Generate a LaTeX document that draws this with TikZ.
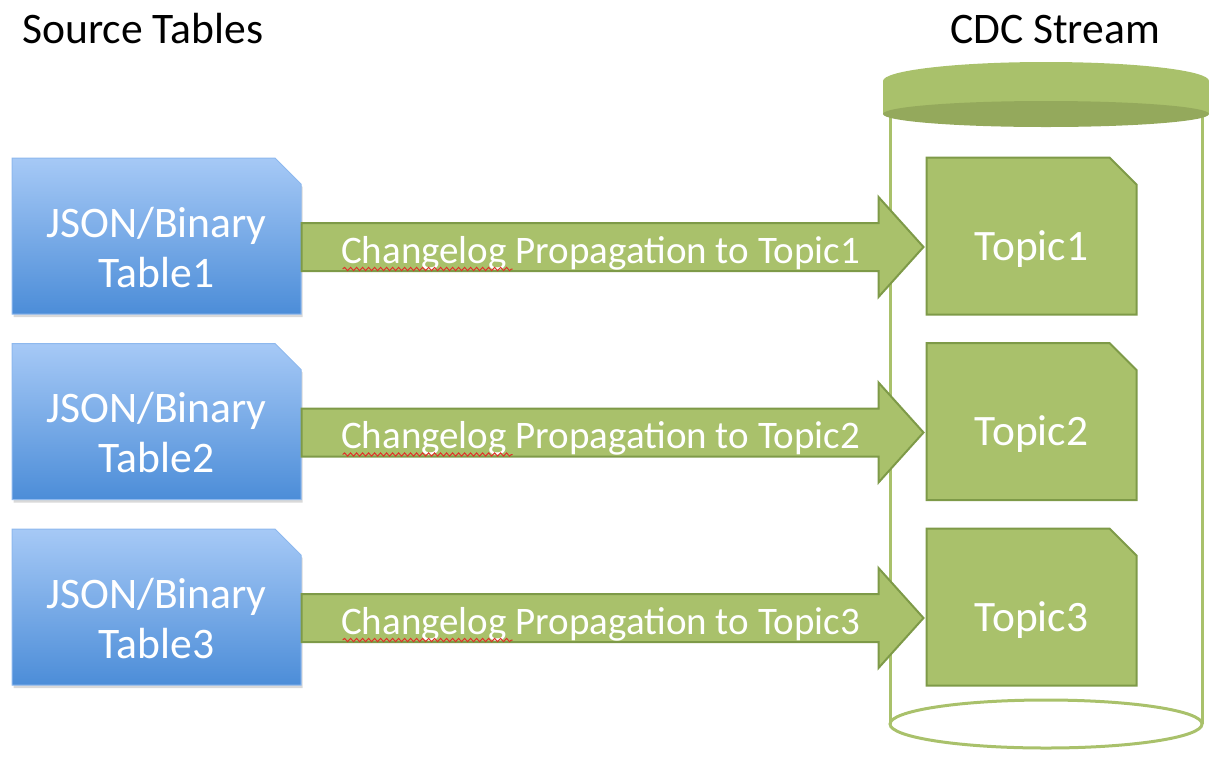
\documentclass[tikz,border=0pt]{standalone}
\usepackage{fontspec}
\setmainfont{Carlito}
\usepackage{xcolor}
\definecolor{cBlueTop}{HTML}{A6C9F6}
\definecolor{cBlueBot}{HTML}{4C8DD8}
\definecolor{cBlueEdge}{HTML}{8DB8EE}
\definecolor{cGreen}{HTML}{A9C16B}
\definecolor{cGreenDark}{HTML}{7E9A48}
\definecolor{cGreenLid}{HTML}{94A95C}
\definecolor{cWave}{HTML}{E0302A}
\usepackage{tikz}
\usetikzlibrary{positioning,calc,shapes.misc,shadows,decorations.pathmorphing}
\tikzset{
  title-text/.style={font=\fontsize{21.8}{26}\selectfont,inner sep=0pt},
  table-box/.style={chamfered rectangle,chamfered rectangle corners=north east,
    chamfered rectangle xsep=6.5pt,chamfered rectangle ysep=6.5pt,
    minimum width=144.5pt,minimum height=78pt,inner sep=0pt,
    top color=cBlueTop,bottom color=cBlueBot,draw=cBlueEdge,line width=0.5pt,
    drop shadow={shadow xshift=0.8pt,shadow yshift=-1.5pt,opacity=0.3},
    text=white,align=center,font=\fontsize{21.8}{25}\selectfont,
    text height=51pt,text depth=0pt},
  topic-box/.style={chamfered rectangle,chamfered rectangle corners=north east,
    chamfered rectangle xsep=6.75pt,chamfered rectangle ysep=6.75pt,
    minimum width=105pt,minimum height=78.5pt,inner sep=0pt,
    fill=cGreen,draw=cGreenDark,line width=1pt,
    text=white,font=\fontsize{21.7}{26}\selectfont,
    text height=27pt,text depth=3pt},
  flow-arrow/.style={fill=cGreen,draw=cGreenDark,line width=1pt,line join=miter},
  flow-text/.style={text=white,font=\fontsize{19.5}{23}\selectfont,inner sep=0pt,anchor=base},
  spell-wave/.style={draw=cWave,line width=0.5pt,
    decorate,decoration={snake,amplitude=0.8pt,segment length=3pt}},
  cyl-line/.style={draw=cGreen,line width=1.5pt},
  cyl-lid/.style={fill=cGreen},
  cyl-lid-dark/.style={fill=cGreenLid},
}
\begin{document}
\begin{tikzpicture}[x=0.5pt,y=-0.5pt,node distance=14.25pt and 312pt]
  \useasboundingbox (0,0) rectangle (1209,756);
  % CDC stream cylinder
  \draw[cyl-line] (890,114) -- (890,724);
  \draw[cyl-line] (1202,114) -- (1202,724);
  \draw[cyl-line] (1046,724) ellipse [x radius=156, y radius=24];
  \fill[cyl-lid] (883,81) rectangle (1209,114);
  \fill[cyl-lid] (1046,81) ellipse [x radius=163, y radius=19];
  \fill[cyl-lid-dark] (1046,114) ellipse [x radius=163, y radius=13];
  % titles
  \node[title-text,anchor=base west] (src-title) at (22,43) {Source Tables};
  \node[title-text,anchor=base] (cdc-title) at (1055,43) {CDC Stream};
  % source tables and topics
  \node[table-box] (tab1) at (156.5,236) {JSON/Binary\\Table1};
  \node[table-box,below=of tab1] (tab2) {JSON/Binary\\Table2};
  \node[table-box,below=of tab2] (tab3) {JSON/Binary\\Table3};
  \node[topic-box,right=of tab1] (top1) {Topic1};
  \node[topic-box,right=of tab2] (top2) {Topic2};
  \node[topic-box,right=of tab3] (top3) {Topic3};
  % changelog arrows
  \draw[flow-arrow] ($(tab1.east)+(0,-13)$) -- ($(top1.west)+(-47,-13)$) -- ++(0,-26)
    -- ($(top1.west)+(-2,11)$) -- ($(top1.west)+(-47,61)$) -- ++(0,-26)
    -- ($(tab1.east)+(0,35)$) -- cycle;
  \draw[flow-arrow] ($(tab2.east)+(0,-13)$) -- ($(top2.west)+(-47,-13)$) -- ++(0,-26)
    -- ($(top2.west)+(-2,11)$) -- ($(top2.west)+(-47,61)$) -- ++(0,-26)
    -- ($(tab2.east)+(0,35)$) -- cycle;
  \draw[flow-arrow] ($(tab3.east)+(0,-13)$) -- ($(top3.west)+(-47,-13)$) -- ++(0,-26)
    -- ($(top3.west)+(-2,11)$) -- ($(top3.west)+(-47,61)$) -- ++(0,-26)
    -- ($(tab3.east)+(0,35)$) -- cycle;
  \node[flow-text] (flow1) at ($(tab1.east)!0.5!(top1.west)+(-13,27)$)
    {Changelog Propagation to Topic1};
  \node[flow-text] (flow2) at ($(tab2.east)!0.5!(top2.west)+(-13,27)$)
    {Changelog Propagation to Topic2};
  \node[flow-text] (flow3) at ($(tab3.east)!0.5!(top3.west)+(-13,27)$)
    {Changelog Propagation to Topic3};
  \draw[spell-wave] ($(flow1.base west)+(2,6)$) -- ++(170,0);
  \draw[spell-wave] ($(flow2.base west)+(2,6)$) -- ++(170,0);
  \draw[spell-wave] ($(flow3.base west)+(2,6)$) -- ++(170,0);
\end{tikzpicture}
\end{document}
